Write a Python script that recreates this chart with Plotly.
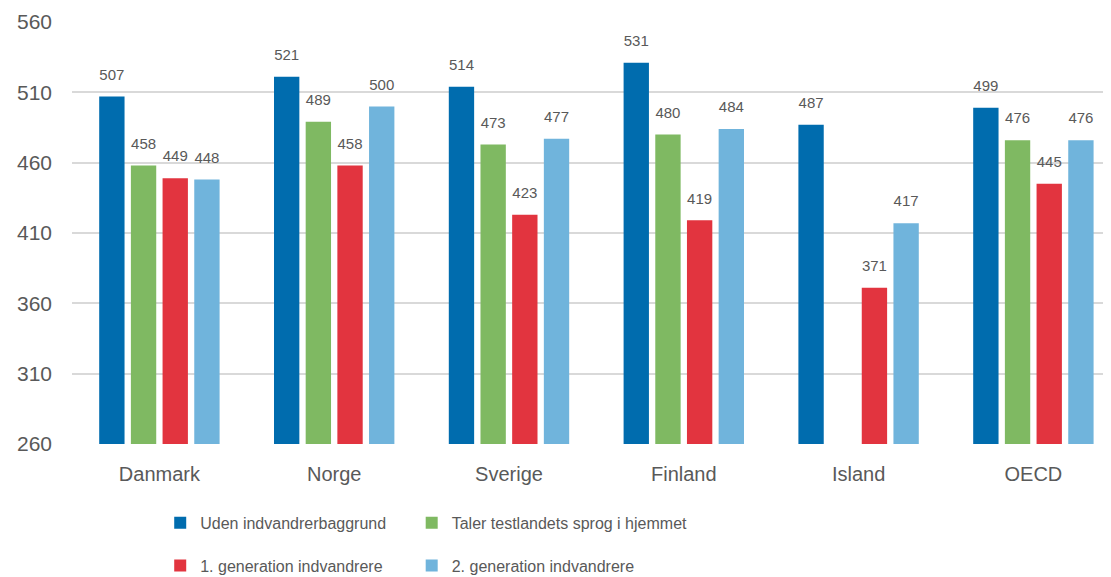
import plotly.graph_objects as go

lande = ["Danmark", "Norge", "Sverige", "Finland", "Island", "OECD"]
uden = [507, 521, 514, 531, 487, 499]
taler = [458, 489, 473, 480, None, 476]
gen1 = [449, 458, 423, 419, 371, 445]
gen2 = [448, 500, 477, 484, 417, 476]

navne = ["Uden indvandrerbaggrund", "Taler testlandets sprog i hjemmet",
         "1. generation indvandrere", "2. generation indvandrere"]
farver = ["#006CAE", "#7FB962", "#E2343F", "#70B4DC"]
serier = [uden, taler, gen1, gen2]

tekst = "#595959"
fnt = "Liberation Sans, Arial, sans-serif"

# one legend per entry so the 2x2 grid lines up like the original
leg_pos = [(0.138, 0.095), (0.366, 0.095), (0.138, 0.02), (0.366, 0.02)]
leg_navne = ["legend", "legend2", "legend3", "legend4"]

fig = go.Figure()
for navn, farve, vals, lg in zip(navne, farver, serier, leg_navne):
    fig.add_trace(go.Bar(
        x=lande, y=vals, name=navn, marker_color=farve, marker_line_width=0,
        legend=lg,
        texttemplate="<span style='font-size:15px'>%{y}</span><br> ",
        textposition="outside",
        textfont=dict(size=9, color=tekst, family=fnt),
        cliponaxis=False,
    ))

layout_leg = {}
for lg, (lx, ly) in zip(leg_navne, leg_pos):
    layout_leg[lg] = dict(
        orientation="h", xref="container", yref="container",
        x=lx, xanchor="left", y=ly, yanchor="middle",
        font=dict(size=16, color=tekst, family=fnt),
        itemwidth=30, bgcolor="rgba(0,0,0,0)",
    )

# page body has an 8px margin, so the figure is a little smaller than the window
fig.update_layout(
    width=1103, height=569,
    margin=dict(l=64, r=0, t=14, b=133),
    paper_bgcolor="white", plot_bgcolor="white",
    barmode="group", bargap=0.275, bargroupgap=0.2,
    font=dict(family=fnt, color=tekst),
    showlegend=True,
    **layout_leg,
)
fig.update_xaxes(range=[-0.5, 5.444], showgrid=False, showline=False, ticks="",
                 automargin=False,
                 tickfont=dict(size=20, color=tekst, family=fnt), ticklabelstandoff=16)
fig.update_yaxes(range=[260, 560], dtick=50, tick0=260, showgrid=True,
                 automargin=False,
                 gridcolor="#D9D9D9", gridwidth=1.5, zeroline=False, showline=False,
                 tickfont=dict(size=21, color=tekst, family=fnt), ticklabelstandoff=19)

fig.write_html("out.html")
